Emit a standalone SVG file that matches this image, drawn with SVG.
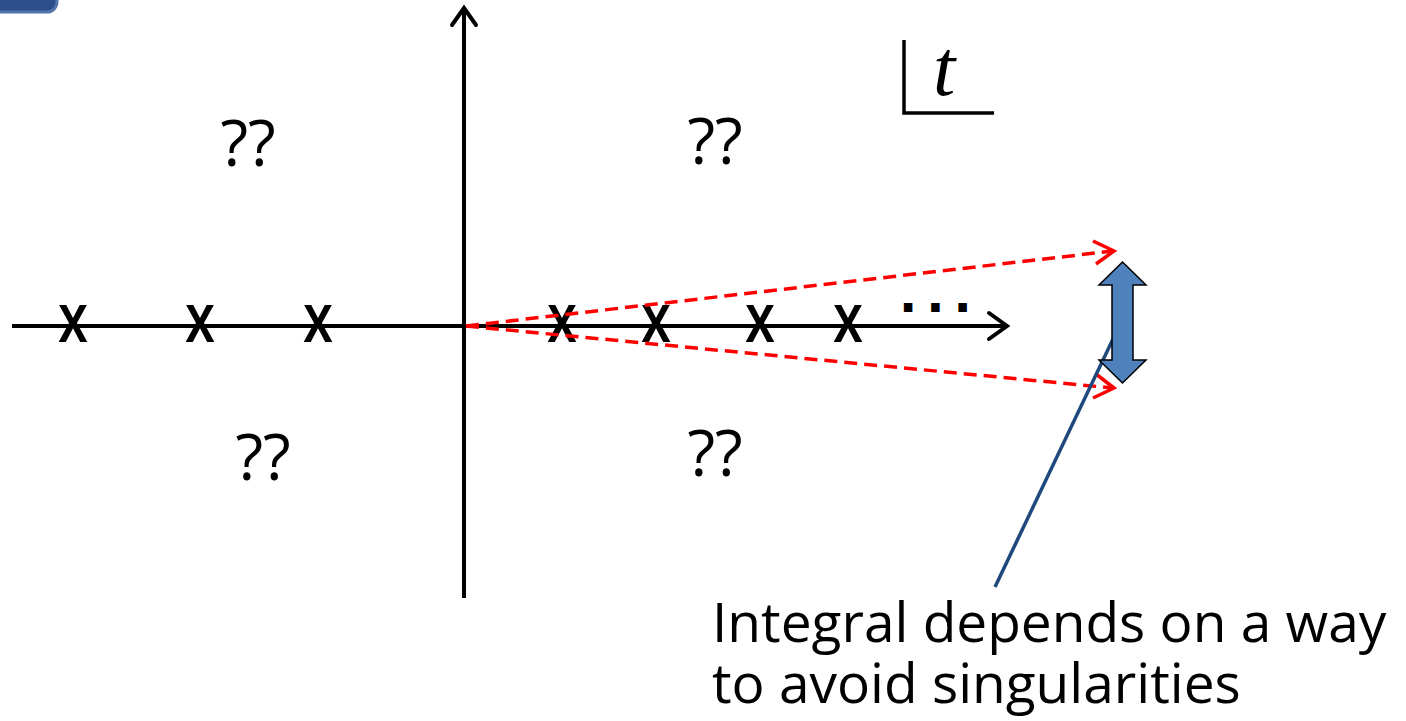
<svg xmlns="http://www.w3.org/2000/svg" width="1406" height="721" viewBox="0 0 1406 721">
<style>
.ax{stroke:#000;stroke-width:4;fill:none}
.head{stroke:#000;stroke-width:4;fill:none;stroke-linecap:round;stroke-linejoin:miter}
.x{font-family:"Open Sans",sans-serif;font-size:68px;font-weight:600;fill:#000}
.q{font-family:"Open Sans",sans-serif;font-size:64px;fill:#000;text-anchor:middle}
.red{stroke:#FF0000;stroke-width:3.5;fill:none;stroke-dasharray:13 7}
.redh{stroke:#FF0000;stroke-width:3.5;fill:none}
.lbl{font-family:"Open Sans",sans-serif;font-size:55px;fill:#000}
</style>
<rect width="1406" height="721" fill="#fff"/>
<g id="corner"><rect x="-20" y="-30" width="77" height="42" rx="10" fill="#2C4F8A" stroke="#5275AE" stroke-width="3"/></g>
<g id="axes">
<line class="ax" x1="12" y1="326" x2="1006" y2="326"/>
<polyline class="head" points="989,313 1007,326 989,339"/>
<line class="ax" x1="464" y1="598" x2="464" y2="8"/>
<polyline class="head" points="452,25 464,8 476,25"/>
</g>
<g id="poles">
<text class="x" x="58" y="342" textLength="30" lengthAdjust="spacingAndGlyphs">x</text>
<text class="x" x="185" y="342" textLength="30" lengthAdjust="spacingAndGlyphs">x</text>
<text class="x" x="303" y="342" textLength="30" lengthAdjust="spacingAndGlyphs">x</text>
<text class="x" x="547" y="342" textLength="30" lengthAdjust="spacingAndGlyphs">x</text>
<text class="x" x="641" y="342" textLength="30" lengthAdjust="spacingAndGlyphs">x</text>
<text class="x" x="745" y="342" textLength="30" lengthAdjust="spacingAndGlyphs">x</text>
<text class="x" x="833" y="342" textLength="30" lengthAdjust="spacingAndGlyphs">x</text>
<text x="899" y="312" font-family="DejaVu Sans" font-weight="bold" font-size="48" letter-spacing="9">...</text>
</g>
<g id="questions">
<text class="q" x="248" y="166">??</text>
<text class="q" x="715" y="164">??</text>
<text class="q" x="263" y="480">??</text>
<text class="q" x="715" y="476">??</text>
</g>
<g id="tlabel">
<polyline points="904,40 904,113 994,113" stroke="#000" stroke-width="3.5" fill="none"/>
<text x="933" y="95" font-family="Liberation Serif" font-style="italic" font-size="80">t</text>
</g>
<g id="connectors">
<line class="red" x1="466" y1="326" x2="1113" y2="251"/>
<polyline class="redh" points="1093,241 1114,251 1096,264"/>
<line class="red" x1="466" y1="326" x2="1113" y2="388"/>
<polyline class="redh" points="1096,374 1114,388 1093,398"/>
<line x1="1113" y1="339" x2="995" y2="587" stroke="#1F497D" stroke-width="3.5"/>
</g>
<g id="doublearrow">
<polygon points="1122.5,262 1146,285 1133,285 1133,360 1146,360 1122.5,383 1099,360 1112,360 1112,285 1099,285" fill="#4F81BD" stroke="#000" stroke-width="1.5"/>
</g>
<g id="note">
<text class="lbl"><tspan x="712" y="642">Integral depends on a way</tspan><tspan x="712" y="703">to avoid singularities</tspan></text>
</g>
</svg>
